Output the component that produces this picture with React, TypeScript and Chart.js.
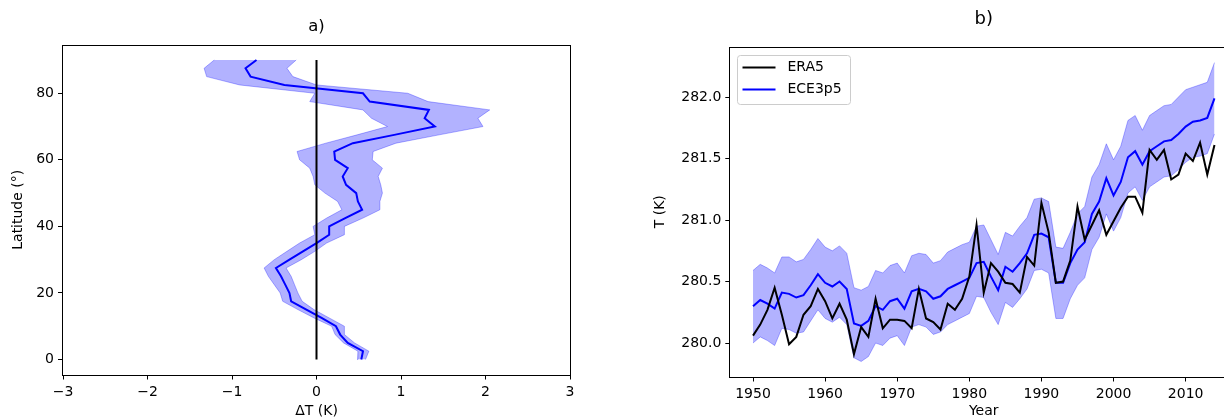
import React, { useEffect, useRef } from 'react';
import { Chart, registerables } from 'chart.js';

Chart.register(...registerables);

// ---------- Panel a) ----------
const latitudes = [0, 2.5, 5, 7.5, 10, 12.5, 15, 17.5, 20, 22.5, 25, 27.5, 30, 32.5, 35, 37.5, 40, 42.5, 45, 47.5, 50, 52.5, 55, 57.5, 60, 62.5, 65, 67.5, 70, 72.5, 75, 77.5, 80, 82.5, 85, 87.5, 90];
const deltaTMean = [0.53, 0.55, 0.37, 0.28, 0.23, 0.06, -0.12, -0.30, -0.32, -0.37, -0.42, -0.48, -0.32, -0.16, 0.0, 0.15, 0.15, 0.34, 0.54, 0.49, 0.47, 0.35, 0.31, 0.37, 0.22, 0.21, 0.43, 0.92, 1.40, 1.28, 1.33, 0.63, 0.55, -0.38, -0.78, -0.84, -0.71];
const deltaTLow = [0.48, 0.49, 0.32, 0.22, 0.18, -0.03, -0.22, -0.40, -0.43, -0.50, -0.57, -0.62, -0.50, -0.35, -0.20, -0.02, -0.04, 0.12, 0.30, 0.25, 0.10, -0.02, -0.04, -0.08, -0.20, -0.23, 0.11, 0.48, 0.84, 0.65, 0.55, -0.08, -0.02, -0.91, -1.30, -1.33, -1.21];
const deltaTHigh = [0.58, 0.62, 0.45, 0.33, 0.33, 0.15, -0.03, -0.17, -0.22, -0.26, -0.30, -0.36, -0.18, -0.02, 0.12, 0.33, 0.33, 0.55, 0.75, 0.75, 0.78, 0.76, 0.73, 0.78, 0.66, 0.67, 0.94, 1.45, 1.97, 1.91, 2.05, 1.32, 1.08, 0.0, -0.28, -0.35, -0.24];
const refLineDeltaT = [0, 0];
const refLineLat = [0, 90];
const deltaTTicks = [-3, -2, -1, 0, 1, 2, 3];
const latitudeTicks = [0, 20, 40, 60, 80];

// ---------- Panel b) ----------
const years = [1950, 1951, 1952, 1953, 1954, 1955, 1956, 1957, 1958, 1959, 1960, 1961, 1962, 1963, 1964, 1965, 1966, 1967, 1968, 1969, 1970, 1971, 1972, 1973, 1974, 1975, 1976, 1977, 1978, 1979, 1980, 1981, 1982, 1983, 1984, 1985, 1986, 1987, 1988, 1989, 1990, 1991, 1992, 1993, 1994, 1995, 1996, 1997, 1998, 1999, 2000, 2001, 2002, 2003, 2004, 2005, 2006, 2007, 2008, 2009, 2010, 2011, 2012, 2013, 2014];
const era5 = [280.06, 280.15, 280.27, 280.45, 280.23, 279.99, 280.05, 280.23, 280.30, 280.44, 280.34, 280.20, 280.32, 280.19, 279.91, 280.13, 280.05, 280.36, 280.12, 280.19, 280.19, 280.18, 280.12, 280.44, 280.20, 280.17, 280.11, 280.32, 280.27, 280.36, 280.54, 280.96, 280.41, 280.65, 280.58, 280.49, 280.48, 280.41, 280.70, 280.63, 281.14, 280.90, 280.49, 280.50, 280.67, 281.11, 280.84, 280.96, 281.08, 280.88, 280.99, 281.10, 281.19, 281.19, 281.06, 281.57, 281.49, 281.57, 281.33, 281.37, 281.54, 281.48, 281.63, 281.37, 281.61];
const ece3p5 = [280.30, 280.35, 280.32, 280.28, 280.41, 280.40, 280.37, 280.39, 280.47, 280.56, 280.49, 280.46, 280.50, 280.44, 280.16, 280.14, 280.18, 280.30, 280.27, 280.34, 280.36, 280.28, 280.42, 280.44, 280.42, 280.36, 280.38, 280.44, 280.47, 280.50, 280.53, 280.65, 280.66, 280.54, 280.43, 280.62, 280.58, 280.65, 280.73, 280.88, 280.89, 280.86, 280.49, 280.49, 280.65, 280.76, 280.82, 281.05, 281.15, 281.34, 281.20, 281.31, 281.51, 281.56, 281.45, 281.56, 281.60, 281.64, 281.65, 281.70, 281.76, 281.80, 281.81, 281.83, 281.99];
const ece3p5High = [280.59, 280.64, 280.61, 280.57, 280.70, 280.70, 280.66, 280.68, 280.76, 280.85, 280.78, 280.75, 280.79, 280.73, 280.45, 280.43, 280.46, 280.59, 280.57, 280.63, 280.65, 280.57, 280.71, 280.73, 280.72, 280.65, 280.67, 280.74, 280.77, 280.80, 280.82, 280.95, 280.96, 280.84, 280.72, 280.90, 280.87, 280.95, 281.02, 281.17, 281.18, 281.15, 280.78, 280.77, 280.90, 281.05, 281.11, 281.35, 281.45, 281.62, 281.49, 281.60, 281.81, 281.85, 281.73, 281.85, 281.89, 281.93, 281.94, 282.00, 282.06, 282.08, 282.10, 282.12, 282.28];
const ece3p5Low = [280.00, 280.05, 280.02, 279.98, 280.12, 280.11, 280.08, 280.09, 280.18, 280.27, 280.20, 280.17, 280.21, 280.15, 279.88, 279.85, 279.89, 280.00, 279.98, 280.04, 280.06, 279.98, 280.13, 280.15, 280.13, 280.07, 280.09, 280.15, 280.18, 280.21, 280.24, 280.38, 280.37, 280.25, 280.15, 280.33, 280.29, 280.36, 280.44, 280.59, 280.60, 280.57, 280.20, 280.20, 280.36, 280.47, 280.53, 280.76, 280.86, 281.05, 280.91, 281.02, 281.22, 281.27, 281.16, 281.27, 281.31, 281.35, 281.36, 281.41, 281.47, 281.51, 281.52, 281.54, 281.70];
const yearTicks = [1950, 1960, 1970, 1980, 1990, 2000, 2010];
const tempTicks = [280.0, 280.5, 281.0, 281.5, 282.0];
const legendLabels = ['ERA5', 'ECE3p5'];

const FONT = "'DejaVu Sans', 'Liberation Sans', sans-serif";
const BAND = 'rgba(0,0,255,0.3)';

const framePlugin = {
  id: 'frameBox',
  afterDraw(chart: any) {
    const { ctx, chartArea: a } = chart;
    ctx.save();
    ctx.strokeStyle = '#000';
    ctx.lineWidth = 1;
    const l = Math.round(a.left) - 0.5;
    const t = Math.round(a.top) + 0.5;
    const r = Math.round(a.right) + 0.5;
    const b = Math.round(a.bottom) + 0.5;
    ctx.strokeRect(l, t, r - l, b - t);
    ctx.restore();
  },
};

const innerLegend = {
  id: 'innerLegend',
  afterDraw(chart: any) {
    const { ctx, chartArea: a } = chart;
    const items = chart.data.datasets.filter((d: any) => legendLabels.includes(d.label));
    const x0 = Math.round(a.left) + 7.5;
    const y0 = Math.round(a.top) + 8.5;
    const w = 113;
    const h = 49;
    ctx.save();
    ctx.beginPath();
    if ((ctx as any).roundRect) (ctx as any).roundRect(x0, y0, w, h, 3);
    else ctx.rect(x0, y0, w, h);
    ctx.fillStyle = 'rgba(255,255,255,0.8)';
    ctx.fill();
    ctx.strokeStyle = 'rgba(204,204,204,1)';
    ctx.lineWidth = 1;
    ctx.stroke();
    items.forEach((d: any, i: number) => {
      const y = y0 + 12 + i * 22;
      ctx.beginPath();
      ctx.moveTo(x0 + 5, y);
      ctx.lineTo(x0 + 38, y);
      ctx.strokeStyle = d.borderColor;
      ctx.lineWidth = 2;
      ctx.stroke();
      ctx.fillStyle = '#000';
      ctx.font = `14px ${FONT}`;
      ctx.textBaseline = 'middle';
      ctx.textAlign = 'left';
      ctx.fillText(d.label, x0 + 50, y);
    });
    ctx.restore();
  },
};

const gridOpts = {
  display: true,
  drawOnChartArea: false,
  drawTicks: true,
  tickLength: 5,
  tickColor: '#000',
  tickWidth: 1,
};

function fixedTicks(values: number[]) {
  return (scale: any) => {
    scale.ticks = values.map((v) => ({ value: v }));
  };
}

const minus = (v: number) => (v < 0 ? '\u2212' + Math.abs(v) : String(v));

function PanelA() {
  const ref = useRef<HTMLCanvasElement>(null);
  useEffect(() => {
    const pts = (xs: number[]) => xs.map((x, i) => ({ x, y: latitudes[i] }));
    const chart = new Chart(ref.current!, {
      type: 'line',
      data: {
        datasets: [
          {
            label: 'ref',
            data: refLineDeltaT.map((x, i) => ({ x, y: refLineLat[i] })),
            borderColor: '#000',
            borderWidth: 2,
            pointRadius: 0,
            fill: false,
          },
          {
            label: 'mean',
            data: pts(deltaTMean),
            borderColor: '#0000ff',
            borderWidth: 2,
            pointRadius: 0,
            fill: false,
          },
          {
            label: 'high',
            data: pts(deltaTHigh),
            borderColor: BAND,
            backgroundColor: BAND,
            borderWidth: 1,
            pointRadius: 0,
            fill: '+1',
          },
          {
            label: 'low',
            data: pts(deltaTLow),
            borderColor: BAND,
            borderWidth: 1,
            pointRadius: 0,
            fill: false,
          },
        ],
      },
      options: {
        indexAxis: 'y',
        responsive: false,
        animation: false,
        events: [],
        layout: { padding: { left: 6, right: 30, top: 0, bottom: 0 } },
        plugins: {
          legend: { display: false },
          tooltip: { enabled: false },
          title: {
            display: true,
            text: 'a)',
            fullSize: false,
            color: '#000',
            font: { family: FONT, size: 16.5, weight: 'normal' },
            padding: { top: 17, bottom: 8.2 },
          },
        },
        scales: {
          x: {
            type: 'linear',
            min: -3,
            max: 3,
            afterBuildTicks: fixedTicks(deltaTTicks),
            afterFit: (s: any) => { s.height = 45.5; },
            grid: gridOpts,
            border: { display: false },
            ticks: { color: '#000', font: { family: FONT, size: 14 }, padding: 4, maxRotation: 0, autoSkip: false, callback: (v: any) => minus(Number(v)) },
            title: { display: true, text: 'ΔT (K)', color: '#000', font: { family: FONT, size: 14 }, padding: { top: 0, bottom: 0 } },
          },
          y: {
            type: 'linear',
            min: -4.5,
            max: 94.5,
            afterBuildTicks: fixedTicks(latitudeTicks),
            afterFit: (s: any) => { s.width = 57; },
            grid: gridOpts,
            border: { display: false },
            ticks: { color: '#000', font: { family: FONT, size: 14 }, padding: 4, autoSkip: false, callback: (v: any) => String(v) },
            title: { display: true, text: 'Latitude (°)', color: '#000', font: { family: FONT, size: 14 }, padding: { top: 4, bottom: 0 } },
          },
        },
      },
      plugins: [framePlugin],
    } as any);
    return () => chart.destroy();
  }, []);
  return <canvas ref={ref} width={600} height={420} />;
}

function PanelB() {
  const ref = useRef<HTMLCanvasElement>(null);
  useEffect(() => {
    const pts = (vs: number[]) => vs.map((y, i) => ({ x: years[i], y }));
    const chart = new Chart(ref.current!, {
      type: 'line',
      data: {
        datasets: [
          {
            label: 'ERA5',
            data: pts(era5),
            borderColor: '#000000',
            borderWidth: 2,
            pointRadius: 0,
            fill: false,
          },
          {
            label: 'ECE3p5',
            data: pts(ece3p5),
            borderColor: '#0000ff',
            borderWidth: 2,
            pointRadius: 0,
            fill: false,
          },
          {
            label: 'high',
            data: pts(ece3p5High),
            borderColor: BAND,
            backgroundColor: BAND,
            borderWidth: 1,
            pointRadius: 0,
            fill: '+1',
          },
          {
            label: 'low',
            data: pts(ece3p5Low),
            borderColor: BAND,
            borderWidth: 1,
            pointRadius: 0,
            fill: false,
          },
        ],
      },
      options: {
        responsive: false,
        animation: false,
        events: [],
        layout: { padding: { left: 28, right: 22.8, top: 0, bottom: 0 } },
        plugins: {
          legend: { display: false },
          tooltip: { enabled: false },
          title: {
            display: true,
            text: 'b)',
            fullSize: false,
            color: '#000',
            font: { family: FONT, size: 18, weight: 'normal' },
            padding: { top: 9, bottom: 16.4 },
          },
        },
        scales: {
          x: {
            type: 'linear',
            min: 1946.85,
            max: 2017.15,
            afterBuildTicks: fixedTicks(yearTicks),
            afterFit: (s: any) => { s.height = 43.5; },
            grid: gridOpts,
            border: { display: false },
            ticks: { color: '#000', font: { family: FONT, size: 14 }, padding: 4, maxRotation: 0, autoSkip: false, callback: (v: any) => String(v) },
            title: { display: true, text: 'Year', color: '#000', font: { family: FONT, size: 14 }, padding: { top: 0, bottom: 0 } },
          },
          y: {
            type: 'linear',
            min: 279.728,
            max: 282.407,
            afterBuildTicks: fixedTicks(tempTicks),
            afterFit: (s: any) => { s.width = 82.3; },
            grid: gridOpts,
            border: { display: false },
            ticks: { color: '#000', font: { family: FONT, size: 14 }, padding: 4, autoSkip: false, callback: (v: any) => Number(v).toFixed(1) },
            title: { display: true, text: 'T (K)', color: '#000', font: { family: FONT, size: 14 }, padding: { top: 4, bottom: 0 } },
          },
        },
      },
      plugins: [framePlugin, innerLegend],
    } as any);
    return () => chart.destroy();
  }, []);
  return <canvas ref={ref} width={640} height={420} />;
}

export default function App() {
  return (
    <div style={{ position: 'absolute', left: 0, top: 0, width: 1224, height: 420, overflow: 'hidden', background: '#fff' }}>
      <div style={{ position: 'absolute', left: 0, top: 0, width: 600, height: 420 }}>
        <PanelA />
      </div>
      <div style={{ position: 'absolute', left: 620, top: 0, width: 640, height: 420 }}>
        <PanelB />
      </div>
    </div>
  );
}
